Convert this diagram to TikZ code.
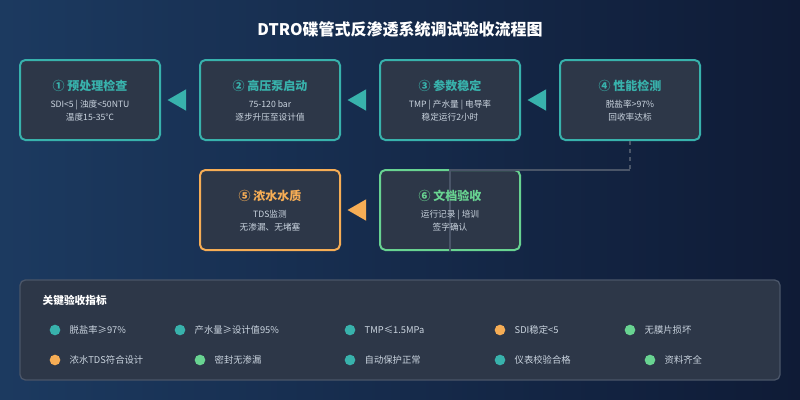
\documentclass[tikz,border=0pt]{standalone}
\usepackage{fontspec}
\setmainfont{Noto Sans CJK SC}
\usetikzlibrary{shapes.geometric}
\definecolor{bgA}{HTML}{1C3A60}
\definecolor{bgB}{HTML}{0F1B36}
\definecolor{boxf}{HTML}{2D3748}
\definecolor{teal}{HTML}{38B2AC}
\definecolor{grn}{HTML}{68D391}
\definecolor{org}{HTML}{F6AD55}
\definecolor{txt}{HTML}{CBD5E0}
\definecolor{ln}{HTML}{4A5568}
\tikzset{
  stepbox/.style={draw=#1,line width=1.5pt,fill=boxf,rounded corners=4pt,minimum width=105pt,minimum height=60pt,inner sep=0pt},
  ttl/.style={text=#1,font=\bfseries\fontsize{9}{11}\selectfont},
  sub/.style={text=txt,font=\fontsize{6.5}{10}\selectfont,align=center},
  tri/.style={fill=#1,draw=none,isosceles triangle,isosceles triangle apex angle=60,shape border rotate=180,minimum height=14pt,minimum width=15pt,inner sep=0pt},
  dot/.style={circle,fill=#1,minimum size=8pt,inner sep=0pt},
  lbl/.style={text=txt,font=\fontsize{7}{8}\selectfont,anchor=west}
}
\begin{document}
\begin{tikzpicture}[x=0.75pt,y=-0.75pt]
\useasboundingbox (0,0) rectangle (800,400);
\shade[left color=bgA,right color=bgB] (0,0) rectangle (800,400);
\node[text=white,font=\bfseries\fontsize{12}{14}\selectfont] (title) at (400,29) {DTRO碟管式反渗透系统调试验收流程图};
% boxes
\node[stepbox=teal] (b1) at (90,100) {};
\node[stepbox=teal] (b2) at (270,100) {};
\node[stepbox=teal] (b3) at (450,100) {};
\node[stepbox=teal] (b4) at (630,100) {};
\node[stepbox=org] (b5) at (270,210) {};
\node[stepbox=grn] (b6) at (450,210) {};
% connector 4 -> 6
\coordinate (c1) at (630,170);
\coordinate (c2) at (450,170);
\draw[ln,line width=1.2pt,dashed] (b4.south) -- (c1);
\draw[ln,line width=1.2pt] (c1) -- (c2) -- (b6.south);
% texts
\foreach \n/\x/\y/\c/\t/\a/\b in {
 t1/90/86/teal/{① 预处理检查}/{SDI<5 | 浊度<50NTU}/{温度15-35℃},
 t2/270/86/teal/{② 高压泵启动}/{75-120 bar}/{逐步升压至设计值},
 t3/450/86/teal/{③ 参数稳定}/{TMP | 产水量 | 电导率}/{稳定运行2小时},
 t4/630/86/teal/{④ 性能检测}/{脱盐率>97\%}/{回收率达标},
 t5/270/196/org/{⑤ 浓水水质}/{TDS监测}/{无渗漏、无堵塞},
 t6/450/196/grn/{⑥ 文档验收}/{运行记录 | 培训}/{签字确认}}{
  \node[ttl=\c] (\n) at (\x,\y) {\t};
  \node[sub] (\n s) at (\x,\y+25) {\a\\\b};
}
% arrows
\node[tri=teal] (a1) at (180,100) {};
\node[tri=teal] (a2) at (360,100) {};
\node[tri=teal] (a3) at (540,100) {};
\node[tri=org] (a4) at (360,210) {};
% panel
\node[draw=ln,line width=1pt,fill=boxf,rounded corners=4pt,minimum width=570pt,minimum height=75pt,inner sep=0pt] (panel) at (400,330) {};
\node[text=white,font=\bfseries\fontsize{8}{10}\selectfont,anchor=west] (ptitle) at (38,300) {关键验收指标};
\foreach \n/\x/\y/\c/\t in {
 k1/55/330/teal/{脱盐率≥97\%},
 k2/180/330/teal/{产水量≥设计值95\%},
 k3/350/330/teal/{TMP≤1.5MPa},
 k4/500/330/org/{SDI稳定<5},
 k5/630/330/grn/{无膜片损坏},
 k6/55/360/org/{浓水TDS符合设计},
 k7/200/360/grn/{密封无渗漏},
 k8/350/360/teal/{自动保护正常},
 k9/500/360/teal/{仪表校验合格},
 k10/650/360/grn/{资料齐全}}{
  \node[dot=\c] (\n) at (\x,\y) {};
  \node[lbl] (\n t) at (\x+10,\y) {\t};
}
\end{tikzpicture}
\end{document}
